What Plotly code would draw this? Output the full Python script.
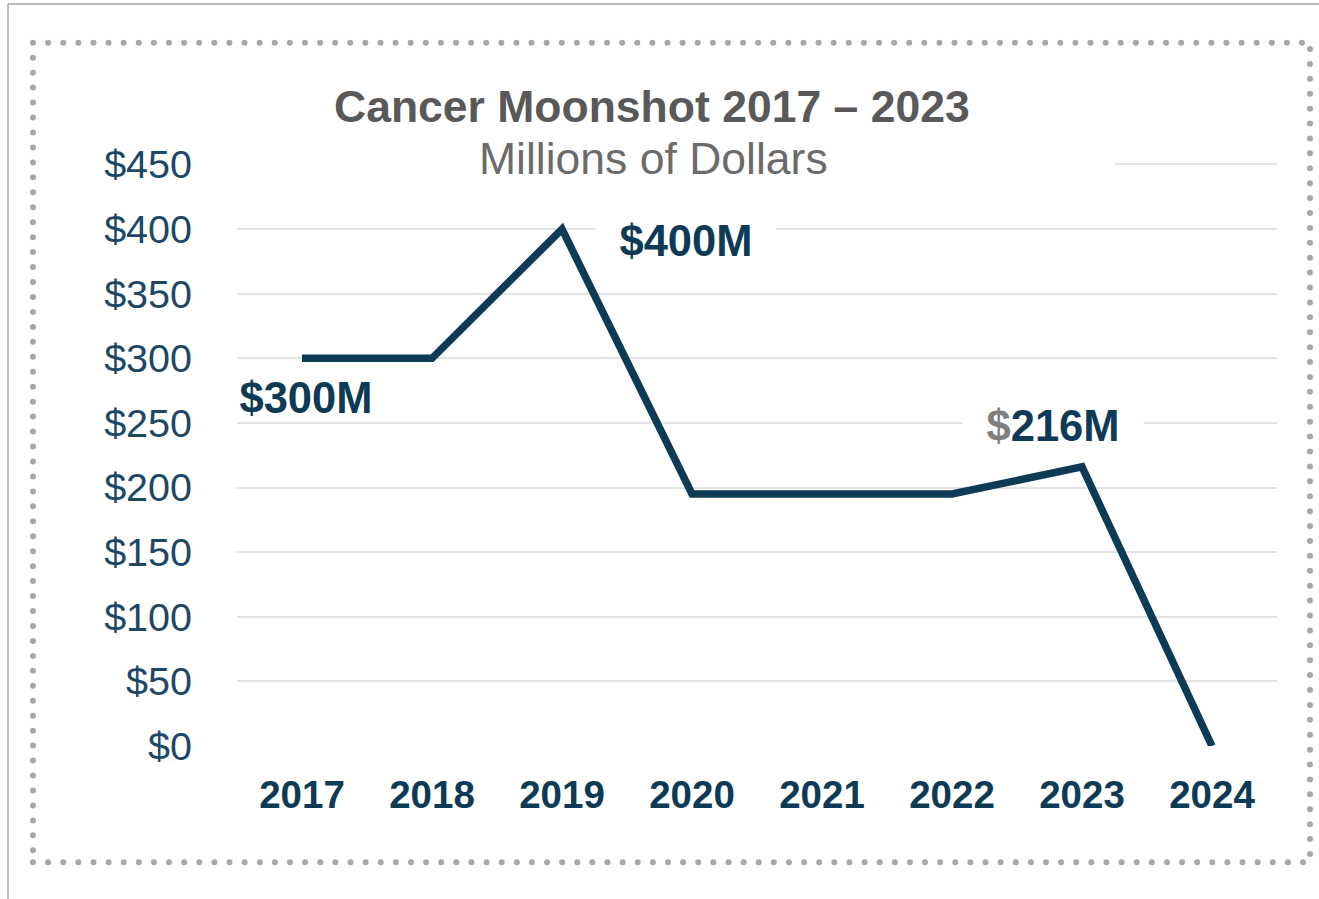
import numpy as np
import plotly.graph_objects as go

# ---------------- data ----------------
years = ["2017", "2018", "2019", "2020", "2021", "2022", "2023", "2024"]
funding = [300, 300, 400, 195, 195, 195, 216, 0]          # millions of dollars
y_tickvals = [0, 50, 100, 150, 200, 250, 300, 350, 400, 450]
y_ticktext = ["$0", "$50", "$100", "$150", "$200", "$250", "$300", "$350", "$400", "$450"]
label_texts = ["$300M", "$400M", "<span style='color:#7f7f7f'>$</span>216M"]
label_x = [0.03, 2.95, 5.78]        # category index positions of the labels
label_y = [269, 391, 248]           # value-axis positions of the labels
label_bg = ["rgba(0,0,0,0)", "white", "white"]
title_text = "<b>Cancer Moonshot 2017 – 2023</b>"
subtitle_text = "Millions of Dollars"

# ---------------- geometry (pixels) ----------------
W, H = 1319, 899
PL, PR, PT, PB = 237, 1277, 158, 746


def px_x(px):
    return (px - PL) / (PR - PL)


def px_y(py):
    return (PB - py) / (PB - PT)


FONT = "Liberation Sans, Arial, sans-serif"
NAVY = "#0d3a55"

fig = go.Figure()
fig.add_trace(go.Scatter(
    x=years, y=funding, mode="lines",
    line=dict(color=NAVY, width=7.5),
    hoverinfo="skip", showlegend=False,
))

shapes = []
# outer thin frame (left and top edges)
shapes.append(dict(type="line", xref="paper", yref="paper",
                   x0=px_x(8), x1=px_x(8), y0=px_y(4), y1=px_y(899),
                   line=dict(color="#a6a6a6", width=1.5)))
shapes.append(dict(type="line", xref="paper", yref="paper",
                   x0=px_x(8), x1=px_x(1319), y0=px_y(4), y1=px_y(4),
                   line=dict(color="#a6a6a6", width=1.5)))

# dotted frame made of small round dots
r = 3.0
dots = []
for x in np.linspace(33, 1302, 85):
    dots.append((x, 42.7))
for x in np.linspace(33, 1303, 85):
    dots.append((x, 862.3))
for y in np.linspace(57.7, 850.3, 54):
    dots.append((33, y))
for y in np.linspace(49, 854, 55):
    dots.append((1310, y))
for (x, y) in dots:
    shapes.append(dict(type="circle", xref="paper", yref="paper",
                       x0=px_x(x - r), x1=px_x(x + r),
                       y0=px_y(y + r), y1=px_y(y - r),
                       fillcolor="#aaa6a6", line=dict(width=0)))

# white title box hiding the top gridline
shapes.append(dict(type="rect", xref="paper", yref="paper", layer="above",
                   x0=px_x(230), x1=px_x(1115), y0=px_y(182), y1=px_y(150),
                   fillcolor="white", line=dict(width=0)))

annotations = [
    dict(xref="paper", yref="paper", x=px_x(652), y=px_y(107),
         text=title_text, showarrow=False, xanchor="center", yanchor="middle",
         font=dict(family=FONT, size=44.5, color="#595959")),
    dict(xref="paper", yref="paper", x=px_x(653), y=px_y(158),
         text=subtitle_text, showarrow=False, xanchor="center", yanchor="middle",
         font=dict(family=FONT, size=44.5, color="#6b6b6b")),
]
for t, lx, ly, bg in zip(label_texts, label_x, label_y, label_bg):
    annotations.append(dict(
        x=lx, y=ly, xref="x", yref="y", text="<b>" + t + "</b>", showarrow=False,
        xanchor="center", yanchor="middle", bgcolor=bg,
        width=176, borderpad=2, align="center",
        font=dict(family=FONT, size=43.5, color=NAVY)))

fig.update_layout(
    width=W, height=H,
    margin=dict(l=PL, r=W - PR, t=PT, b=H - PB, pad=0),
    paper_bgcolor="white", plot_bgcolor="white",
    shapes=shapes, annotations=annotations,
    showlegend=False,
    xaxis=dict(type="category", range=[-0.5, 7.5], showgrid=False, zeroline=False,
               showline=False, ticks="", ticklabelstandoff=22,
               tickfont=dict(family=FONT, size=38.5, color=NAVY, weight="bold")),
    yaxis=dict(range=[0, 455], tickvals=y_tickvals, ticktext=y_ticktext,
               showgrid=True, gridcolor="#e3e3e3", gridwidth=2,
               zeroline=False, showline=False, ticks="", ticklabelstandoff=44,
               tickfont=dict(family=FONT, size=39.5, color="#1c4866")),
)

fig.write_html("out.html", config={"displayModeBar": False},
               post_script="document.body.style.margin='0';document.body.style.overflow='hidden';")
